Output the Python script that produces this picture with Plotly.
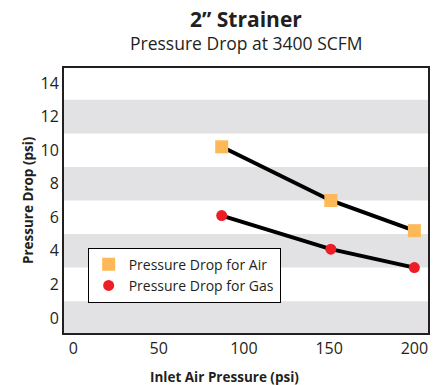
import plotly.graph_objects as go

# data
inlet_psi = [87, 151, 200]
drop_air = [10.2, 7.0, 5.2]
drop_gas = [6.1, 4.1, 3.0]
y_ticks = [0, 2, 4, 6, 8, 10, 12, 14]
x_ticks = [0, 50, 100, 150, 200]
band_ranges = [(-1, 1), (3, 5), (7, 9), (11, 13)]

FONT = "Open Sans"

fig = go.Figure()

# black connecting lines (no legend)
fig.add_trace(go.Scatter(x=inlet_psi, y=drop_air, mode="lines",
                         line=dict(color="black", width=4), showlegend=False, hoverinfo="skip"))
fig.add_trace(go.Scatter(x=inlet_psi, y=drop_gas, mode="lines",
                         line=dict(color="black", width=4), showlegend=False, hoverinfo="skip"))
# markers
fig.add_trace(go.Scatter(x=inlet_psi, y=drop_air, mode="markers", name="Pressure Drop for Air",
                         marker=dict(symbol="square", size=13, color="#FDB857")))
fig.add_trace(go.Scatter(x=inlet_psi, y=drop_gas, mode="markers", name="Pressure Drop for Gas",
                         marker=dict(symbol="circle", size=11, color="#EE1C25")))

# gray stripes
for y0, y1 in band_ranges:
    fig.add_shape(type="rect", xref="paper", yref="y", x0=0, x1=1, y0=y0, y1=y1,
                  fillcolor="#E2E2E4", line_width=0, layer="below")

fig.update_layout(
    width=441, height=385,
    margin=dict(l=64, r=13, t=68, b=52),
    paper_bgcolor="white", plot_bgcolor="white",
    font=dict(family=FONT, color="#231F20"),
    legend=dict(x=0.065, y=0.322, xanchor="left", yanchor="top",
                bordercolor="black", borderwidth=1, bgcolor="white",
                font=dict(size=14, family=FONT), tracegroupgap=0),
    xaxis=dict(range=[-5.5, 208], tickvals=x_ticks, showgrid=False, zeroline=False,
               showline=True, linecolor="#231F20", linewidth=2, mirror=True,
               ticks="", tickfont=dict(size=16)),
    yaxis=dict(range=[-0.9, 14.9], tickvals=y_ticks, showgrid=False, zeroline=False,
               showline=True, linecolor="#231F20", linewidth=2, mirror=True,
               ticks="", tickfont=dict(size=16)),
    annotations=[
        dict(text="<b>2\u201d Strainer</b>", xref="paper", yref="paper", x=0.5, y=1.185,
             showarrow=False, font=dict(size=21), yanchor="middle"),
        dict(text="Pressure Drop at 3400 SCFM", xref="paper", yref="paper", x=0.5, y=1.094,
             showarrow=False, font=dict(size=17.5), yanchor="middle"),
        dict(text="<b>Inlet Air Pressure (psi)</b>", xref="paper", yref="paper", x=0.442, y=-0.166,
             showarrow=False, font=dict(size=13.5), yanchor="middle"),
        dict(text="<b>Pressure Drop (psi)</b>", xref="paper", yref="paper", x=-0.100, y=0.5,
             showarrow=False, font=dict(size=13.5), textangle=-90, xanchor="center", yanchor="middle"),
    ],
)

fig.write_html("out.html", config={"displayModeBar": False},
               post_script="document.body.style.margin='0';")
